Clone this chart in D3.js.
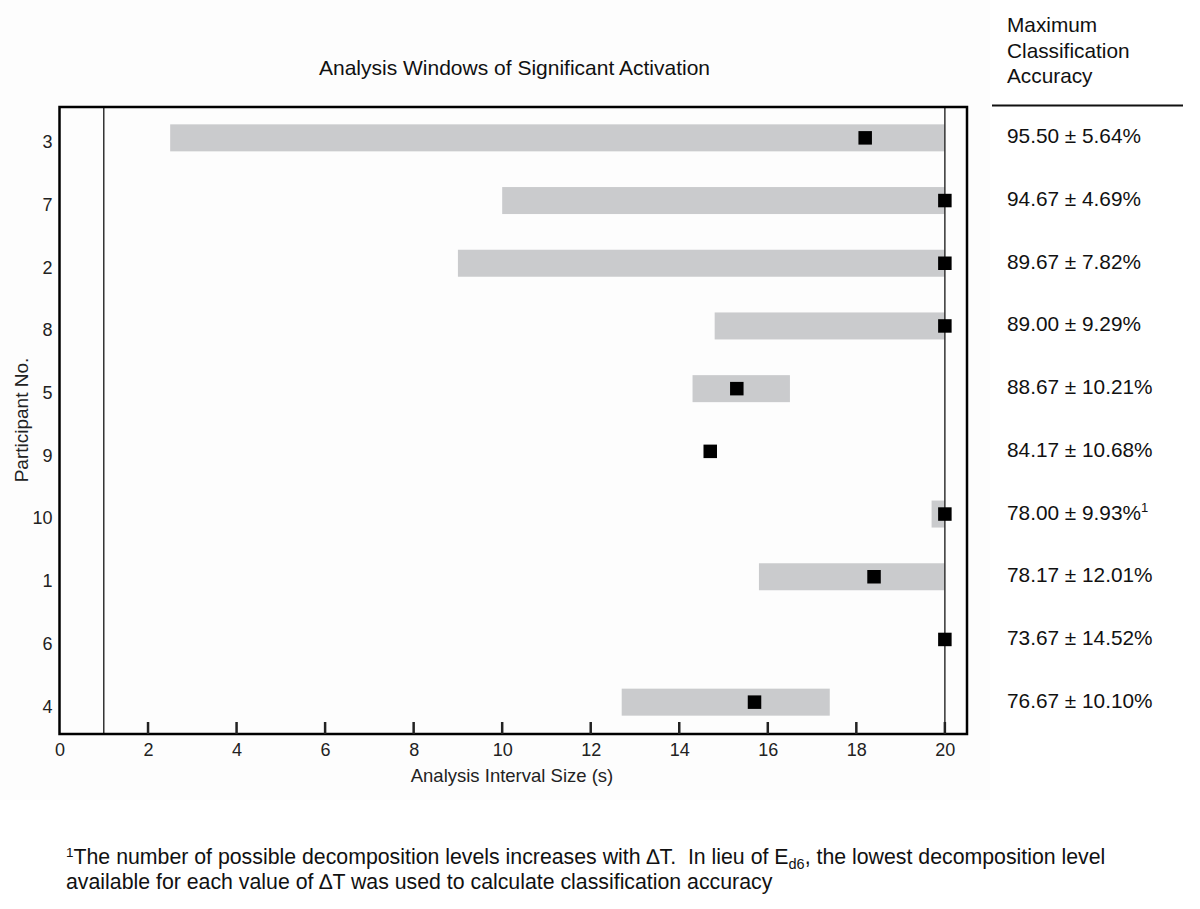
<!DOCTYPE html>
<html>
<head>
<meta charset="utf-8">
<script src="https://cdn.jsdelivr.net/npm/d3@7"></script>
<style>
  html, body { margin: 0; padding: 0; background: #ffffff; }
  svg { display: block; }
  text { font-family: "Liberation Sans", Arial, Helvetica, sans-serif; white-space: pre; }
</style>
</head>
<body>
<svg id="chart" width="1200" height="909"></svg>
<script>
// ---- data ----
const participants = ["3", "7", "2", "8", "5", "9", "10", "1", "6", "4"];
const windowStart  = [2.5, 10.0, 9.0, 14.8, 14.3, null, 19.7, 15.8, null, 12.7];
const windowEnd    = [20,  20,   20,  20,   16.5, null, 20,   20,   null, 17.4];
const peakInterval = [18.2, 20, 20, 20, 15.3, 14.7, 20, 18.4, 20, 15.7];
const accuracyMean = ["95.50", "94.67", "89.67", "89.00", "88.67", "84.17", "78.00", "78.17", "73.67", "76.67"];
const accuracySd   = ["5.64", "4.69", "7.82", "9.29", "10.21", "10.68", "9.93", "12.01", "14.52", "10.10"];
const footnoteMark = [false, false, false, false, false, false, true, false, false, false];
const xTicks = [0, 2, 4, 6, 8, 10, 12, 14, 16, 18, 20];
const refLines = [1, 20];

(function () {
const svg = d3.select("#chart");
const FF = "Liberation Sans, Arial, Helvetica, sans-serif";

// light off-white plot image background
svg.append("rect").attr("x", 0).attr("y", 0).attr("width", 990).attr("height", 800).attr("fill", "#fdfdfd");

const pL = 59.5, pR = 967, pT = 107, pB = 734;
const x = d3.scaleLinear().domain([0, 20.5]).range([pL, pR]);
const y = d3.scaleBand().domain(participants).range([pT, pB]).paddingInner(0).paddingOuter(0);

const barH = 27, mk = 13.5;

const rows = participants.map((p, i) => ({
  p, s: windowStart[i], e: windowEnd[i], m: peakInterval[i],
  acc: accuracyMean[i] + " \u00B1 " + accuracySd[i] + "%", fn: footnoteMark[i]
}));

// bars
svg.append("g").selectAll("rect").data(rows.filter(d => d.s !== null)).join("rect")
  .attr("x", d => x(d.s))
  .attr("width", d => x(d.e) - x(d.s))
  .attr("y", d => y(d.p) + y.bandwidth() / 2 - barH / 2 - 0.5)
  .attr("height", barH)
  .attr("fill", "#cacbcd");

// reference vertical lines
svg.append("g").selectAll("line").data(refLines).join("line")
  .attr("x1", d => x(d)).attr("x2", d => x(d))
  .attr("y1", pT).attr("y2", pB)
  .attr("stroke", "#333").attr("stroke-width", 1.5);

// markers
svg.append("g").selectAll("rect").data(rows).join("rect")
  .attr("x", d => x(d.m) - mk / 2)
  .attr("y", d => y(d.p) + y.bandwidth() / 2 - mk / 2 - 0.5)
  .attr("width", mk).attr("height", mk)
  .attr("fill", "#000");

// frame
svg.append("rect").attr("x", pL).attr("y", pT)
  .attr("width", pR - pL).attr("height", pB - pT)
  .attr("fill", "none").attr("stroke", "#000").attr("stroke-width", 2.5);

// x axis: inward ticks
const xAxis = d3.axisBottom(x).tickValues(xTicks).tickSize(0).tickPadding(9).tickFormat(d3.format("d"));
const gx = svg.append("g").attr("transform", `translate(0,${pB})`).call(xAxis);
gx.attr("font-size", null).attr("font-family", null);
gx.select(".domain").remove();
gx.selectAll("text").style("font-size", "18px").attr("fill", "#222").style("font-family", FF);
svg.append("g").selectAll("line").data(xTicks.filter(d => d > 0)).join("line")
  .attr("x1", d => x(d)).attr("x2", d => x(d))
  .attr("y1", pB).attr("y2", pB - 12)
  .attr("stroke", "#222").attr("stroke-width", 2.5);

// y axis labels
const yAxis = d3.axisLeft(y).tickSize(0).tickPadding(7);
const gy = svg.append("g").attr("transform", `translate(${pL},0)`).call(yAxis);
gy.attr("font-size", null).attr("font-family", null);
gy.select(".domain").remove();
gy.selectAll("text").style("font-size", "18px").attr("fill", "#222").attr("dy", "0.55em")
  .style("font-family", FF);

// axis titles
svg.append("text").attr("x", 512).attr("y", 782).attr("text-anchor", "middle")
  .style("font-size", "18.5px").attr("fill", "#222").text("Analysis Interval Size (s)");
svg.append("text").attr("transform", "translate(28,420) rotate(-90)").attr("text-anchor", "middle")
  .style("font-size", "19px").attr("fill", "#222").text("Participant No.");

// title
svg.append("text").attr("x", 514.5).attr("y", 75).attr("text-anchor", "middle")
  .style("font-size", "21px").attr("fill", "#111").text("Analysis Windows of Significant Activation");

// accuracy column header
const hdr = ["Maximum", "Classification", "Accuracy"];
svg.append("g").selectAll("text").data(hdr).join("text")
  .attr("x", 1007).attr("y", (d, i) => 32 + i * 25.5)
  .style("font-size", "20.8px").attr("fill", "#111").text(d => d);
svg.append("line").attr("x1", 992).attr("x2", 1183).attr("y1", 105.5).attr("y2", 105.5)
  .attr("stroke", "#111").attr("stroke-width", 2);

// accuracy values
const accG = svg.append("g").selectAll("text").data(rows).join("text")
  .attr("x", 1007).attr("y", d => y(d.p) + y.bandwidth() / 2 + 5)
  .style("font-size", "20.8px").attr("fill", "#111");
accG.append("tspan").text(d => d.acc);
accG.filter(d => d.fn).append("tspan").style("font-size", "13px").attr("dy", -8).text("1");

// footnote
const fn1 = svg.append("text").attr("x", 66).attr("y", 864).style("font-size", "21.3px").attr("fill", "#111");
fn1.append("tspan").style("font-size", "13.5px").attr("dy", -7).text("1");
fn1.append("tspan").attr("dy", 7).text("The number of possible decomposition levels increases with \u2206T.  In lieu of E");
fn1.append("tspan").style("font-size", "14.5px").attr("dy", 5).text("d6");
fn1.append("tspan").attr("dy", -5).text(", the lowest decomposition level");
svg.append("text").attr("x", 66).attr("y", 889).style("font-size", "21.3px").attr("fill", "#111")
  .text("available for each value of \u2206T was used to calculate classification accuracy");
})();
</script>
</body>
</html>
